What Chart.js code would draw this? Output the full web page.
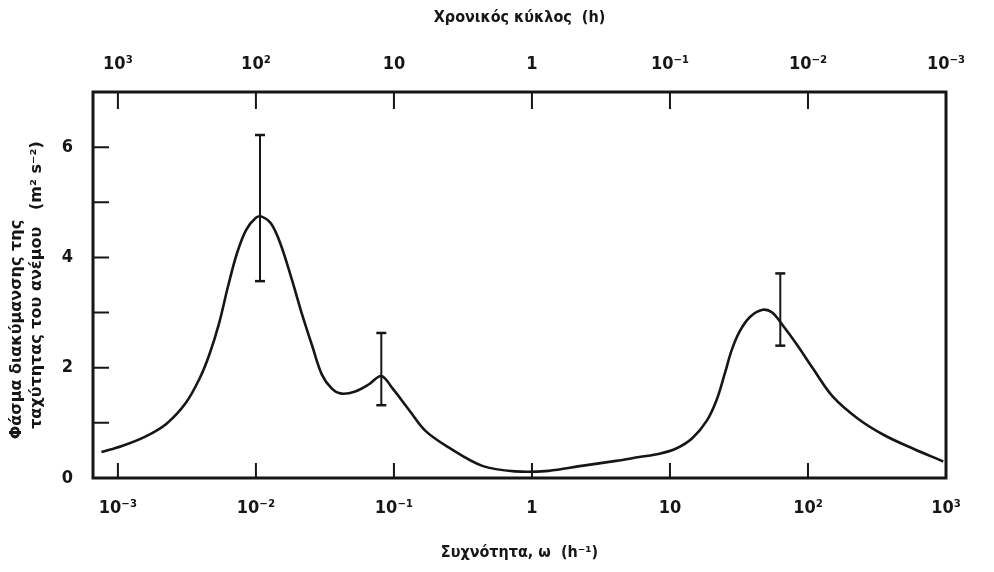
<!DOCTYPE html>
<html>
<head>
<meta charset="utf-8">
<script src="https://cdn.jsdelivr.net/npm/chart.js@4.4.1/dist/chart.umd.min.js"></script>
<style>
  html, body { margin: 0; padding: 0; background: #fff; }
</style>
</head>
<body>
<canvas id="spectrum" width="994" height="572"></canvas>
<script>
// frequency (h^-1) and spectral value
const omega = [0.00076, 0.00107, 0.00158, 0.00224, 0.0031, 0.0039, 0.0046, 0.0054, 0.0063, 0.0073,
    0.0085, 0.0100, 0.011, 0.0129, 0.0151, 0.0182, 0.0214, 0.0257, 0.030, 0.0355,
    0.0417, 0.0525, 0.066, 0.081, 0.098, 0.129, 0.170, 0.251, 0.437, 0.76,
    1.32, 2.29, 4.07, 6.0, 8.4, 11.2, 14.5, 18.5, 21.8, 25,
    28, 32, 38, 47, 55, 66, 83, 109, 152, 229,
    355, 580, 955];
const spectrum = [0.47, 0.58, 0.75, 0.98, 1.36, 1.8, 2.24, 2.8, 3.49, 4.08,
    4.5, 4.72, 4.74, 4.61, 4.24, 3.6, 3.0, 2.38, 1.88, 1.62,
    1.53, 1.57, 1.7, 1.85, 1.62, 1.23, 0.85, 0.55, 0.22, 0.12,
    0.13, 0.22, 0.31, 0.38, 0.44, 0.54, 0.72, 1.04, 1.42, 1.9,
    2.32, 2.66, 2.92, 3.05, 3.0, 2.76, 2.42, 1.98, 1.47, 1.08,
    0.78, 0.53, 0.3];

// error bars
const errOmega = [0.0107, 0.081, 63];
const errLow = [3.57, 1.32, 2.4];
const errHigh = [6.22, 2.63, 3.71];

// tick labels
const freqTicks = [0.001, 0.01, 0.1, 1, 10, 100, 1000];
const freqLabels = ['10⁻³', '10⁻²', '10⁻¹', '1', '10', '10²', '10³'];
const periodLabels = ['10³', '10²', '10', '1', '10⁻¹', '10⁻²', '10⁻³'];

const ink = '#161616';
const fontFamily = "'DejaVu Sans Condensed', 'DejaVu Sans', sans-serif";

const datasets = [{
    data: omega.map((w, i) => ({ x: w, y: spectrum[i] })),
    borderColor: ink,
    borderWidth: 2.6,
    pointRadius: 0,
    tension: 0.35,
    fill: false
}];
errOmega.forEach((w, i) => {
    datasets.push({
        data: [{ x: w, y: errLow[i] }, { x: w, y: errHigh[i] }],
        borderColor: ink,
        borderWidth: 2,
        showLine: true,
        pointStyle: 'line',
        pointRadius: 5,
        pointBorderWidth: 2.5,
        pointBorderColor: ink
    });
});

// frame and inward tick marks
const frameTicks = {
    id: 'frameTicks',
    afterDraw(chart) {
        const ctx = chart.ctx;
        const a = chart.chartArea;
        ctx.save();
        ctx.strokeStyle = ink;
        ctx.lineWidth = 2;
        ctx.beginPath();
        chart.scales.x.ticks.forEach(t => {
            const px = chart.scales.x.getPixelForValue(t.value);
            ctx.moveTo(px, a.bottom);
            ctx.lineTo(px, a.bottom - 15);
        });
        chart.scales.x2.ticks.forEach(t => {
            const px = chart.scales.x2.getPixelForValue(t.value);
            ctx.moveTo(px, a.top);
            ctx.lineTo(px, a.top + 17);
        });
        chart.scales.y.ticks.forEach(t => {
            const py = chart.scales.y.getPixelForValue(t.value);
            ctx.moveTo(a.left, py);
            ctx.lineTo(a.left + 16, py);
        });
        ctx.stroke();
        ctx.lineWidth = 3;
        ctx.strokeRect(a.left, a.top, a.right - a.left, a.bottom - a.top);
        ctx.restore();
    }
};

function powerTicks(scale) {
    scale.ticks = freqTicks.map(v => ({ value: v }));
}

new Chart(document.getElementById('spectrum').getContext('2d'), {
    type: 'line',
    data: { datasets: datasets },
    options: {
        responsive: false,
        animation: false,
        layout: { padding: { left: 0, right: 48, top: 0, bottom: 0 } },
        plugins: {
            legend: { display: false },
            tooltip: { enabled: false }
        },
        scales: {
            x: {
                type: 'logarithmic',
                position: 'bottom',
                min: 0.00066,
                max: 1000,
                afterBuildTicks: powerTicks,
                afterFit: s => { s.height = 94; },
                grid: { display: false },
                border: { display: false },
                ticks: {
                    autoSkip: false,
                    maxRotation: 0,
                    padding: 12,
                    color: ink,
                    font: { family: fontFamily, size: 18, weight: 'bold' },
                    callback: (v, i) => freqLabels[i]
                },
                title: {
                    display: true,
                    text: 'Συχνότητα, ω  (h⁻¹)',
                    color: ink,
                    padding: { top: 0, bottom: 10 },
                    font: { family: fontFamily, size: 16, weight: 'bold' }
                }
            },
            x2: {
                type: 'logarithmic',
                axis: 'x',
                position: 'top',
                min: 0.00066,
                max: 1000,
                afterBuildTicks: powerTicks,
                afterFit: s => { s.height = 92; },
                grid: { display: false },
                border: { display: false },
                ticks: {
                    autoSkip: false,
                    maxRotation: 0,
                    padding: 9,
                    color: ink,
                    font: { family: fontFamily, size: 18, weight: 'bold' },
                    callback: (v, i) => periodLabels[i]
                },
                title: {
                    display: true,
                    text: 'Χρονικός κύκλος  (h)',
                    color: ink,
                    padding: { top: 8, bottom: 0 },
                    font: { family: fontFamily, size: 16, weight: 'bold' }
                }
            },
            y: {
                min: 0,
                max: 7,
                afterFit: s => { s.width = 93; },
                grid: { display: false },
                border: { display: false },
                ticks: {
                    stepSize: 1,
                    padding: 12,
                    color: ink,
                    font: { family: fontFamily, size: 18, weight: 'bold' },
                    callback: v => (v % 2 === 0 && v < 7 ? String(v) : '')
                },
                title: {
                    display: true,
                    // trailing spaces push the first line down like in the original
                    text: ['Φάσμα διακύμανσης της                ', 'ταχύτητας του ανέμου   (m² s⁻²)'],
                    color: ink,
                    padding: { top: 6, bottom: 0 },
                    font: { family: "'DejaVu Sans', sans-serif", size: 16, weight: 'bold', lineHeight: 1.3 }
                }
            }
        }
    },
    plugins: [frameTicks]
});
</script>
</body>
</html>
